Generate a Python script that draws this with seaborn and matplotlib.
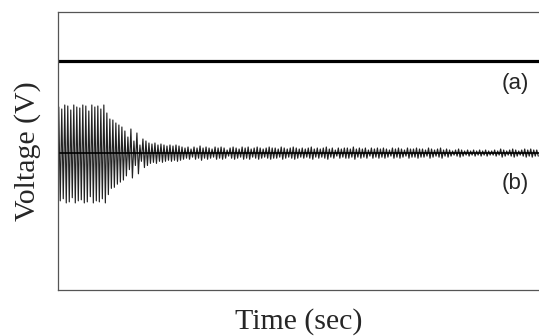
import numpy as np
import pandas as pd
import matplotlib
matplotlib.use("Agg")
import matplotlib.pyplot as plt
import seaborn as sns

# trace (a): flat dc level, trace (b): decaying ringing around 0 V
level_a = 0.92
time_end = 4.81
# peak amplitude of each ringing cycle of trace (b)
peak_amp = [
    0.46, 0.44, 0.48, 0.47, 0.43, 0.48, 0.46, 0.45, 0.48, 0.47, 0.42, 0.48, 0.46, 0.47, 0.44, 0.48,
    0.40, 0.34, 0.33, 0.30, 0.28, 0.26,
    0.22, 0.16, 0.24, 0.12, 0.20, 0.08, 0.14,
    0.12, 0.10, 0.09, 0.10, 0.08, 0.09, 0.08, 0.07, 0.08, 0.07, 0.08, 0.07,
    0.06, 0.05, 0.06, 0.04, 0.06, 0.05, 0.07, 0.05, 0.06, 0.05, 0.04, 0.06, 0.05, 0.06, 0.05, 0.03,
    0.05, 0.06, 0.05, 0.04, 0.06, 0.05, 0.06, 0.04, 0.05, 0.06, 0.05, 0.04, 0.05, 0.06, 0.05, 0.05,
    0.04, 0.06, 0.05, 0.04, 0.05, 0.06, 0.05, 0.04,
    0.05, 0.04, 0.05, 0.06, 0.04, 0.05, 0.04, 0.05, 0.06, 0.04, 0.05, 0.03, 0.05, 0.04, 0.05, 0.05,
    0.04, 0.06, 0.04, 0.05, 0.04, 0.05, 0.03, 0.05, 0.04, 0.05, 0.04, 0.05, 0.04, 0.03, 0.05, 0.04,
    0.05, 0.04, 0.03, 0.05, 0.04, 0.04, 0.05, 0.04,
    0.04, 0.03, 0.05, 0.04, 0.03, 0.04, 0.05, 0.03, 0.04, 0.03, 0.02, 0.03, 0.04, 0.03, 0.02, 0.03,
    0.02, 0.03, 0.02, 0.03, 0.02, 0.03, 0.02, 0.02, 0.03, 0.02, 0.04, 0.03, 0.02, 0.03, 0.04, 0.03,
    0.02, 0.03, 0.04, 0.03, 0.04, 0.03, 0.03,
]

sns.set_style("white")
plt.rcParams["font.family"] = ["Liberation Serif", "DejaVu Serif"]

# each cycle gives one positive and one negative swing
period = time_end / len(peak_amp)
amps = np.array(peak_amp)
t = np.repeat(np.arange(len(amps)) * period, 2) + np.tile([0.25, 0.75], len(amps)) * period
v = np.repeat(amps, 2) * np.tile([1, -1.04], len(amps))
ring = pd.DataFrame({"time": t, "volt": v})
flat = pd.DataFrame({"time": [0, time_end], "volt": [level_a, level_a]})
base = pd.DataFrame({"time": [0, time_end], "volt": [0, 0]})

fig = plt.figure(figsize=(5.39, 3.36), dpi=100)
ax = fig.add_axes([58 / 539, 46 / 336, 481 / 539, 278 / 336])

sns.lineplot(data=ring, x="time", y="volt", ax=ax, color="#222222", linewidth=0.85, sort=False)
sns.lineplot(data=base, x="time", y="volt", ax=ax, color="black", linewidth=1.2)
sns.lineplot(data=flat, x="time", y="volt", ax=ax, color="black", linewidth=2.3)

ax.set_xlim(0, time_end)
ax.set_ylim(-1.37, 1.41)
ax.set_xticks([])
ax.set_yticks([])
ax.spines["right"].set_visible(False)
for s in ["left", "top", "bottom"]:
    ax.spines[s].set_color("#555555")
    ax.spines[s].set_linewidth(0.9)

ax.set_xlabel("Time (sec)", fontsize=21.5, labelpad=13)
ax.set_ylabel("Voltage (V)", fontsize=21.5, labelpad=12)

ax.text(4.57, 0.70, "(a)", fontsize=16, family=["Liberation Sans", "DejaVu Sans"], ha="center", va="center")
ax.text(4.57, -0.30, "(b)", fontsize=16, family=["Liberation Sans", "DejaVu Sans"], ha="center", va="center")

fig.savefig("out.png", dpi=100)
